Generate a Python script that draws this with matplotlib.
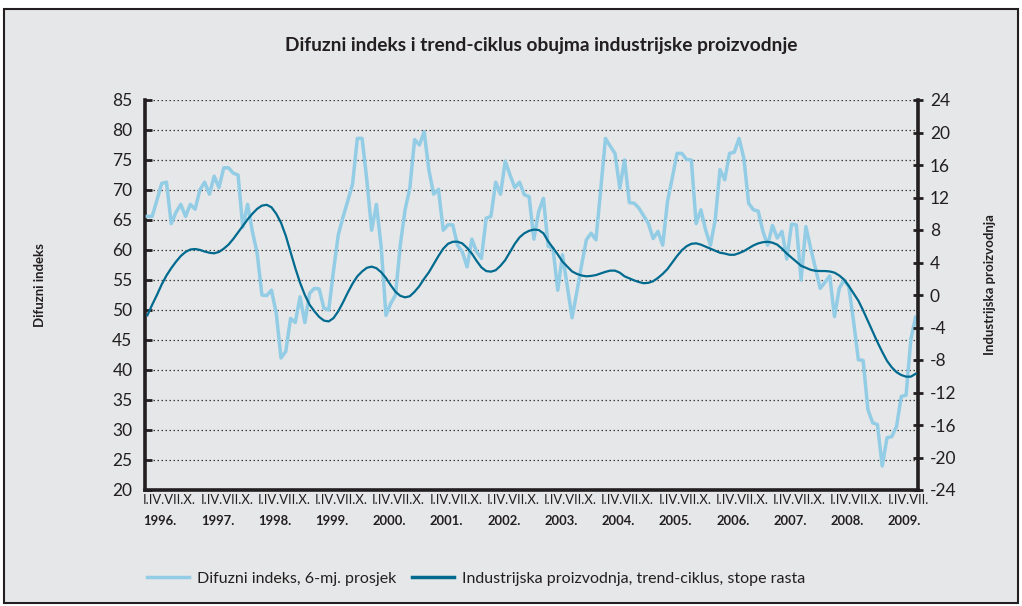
import matplotlib
matplotlib.use('Agg')
import matplotlib.pyplot as plt
import matplotlib.transforms as mtransforms
from matplotlib.patches import Rectangle
from matplotlib.lines import Line2D
import numpy as np

plt.rcParams['font.family'] = ['Lato', 'DejaVu Sans']

# ---------------- data ----------------
title = 'Difuzni indeks i trend-ciklus obujma industrijske proizvodnje'
left_label = 'Difuzni indeks'
right_label = 'Industrijska proizvodnja'
series_names = ['Difuzni indeks, 6-mj. prosjek',
                'Industrijska proizvodnja, trend-ciklus, stope rasta']
years = ['1996.', '1997.', '1998.', '1999.', '2000.', '2001.', '2002.',
         '2003.', '2004.', '2005.', '2006.', '2007.', '2008.', '2009.']
month_labels = ['I.IV.VII.X.'] * 13 + ['I.IV.VII.']
left_ticks = [20, 25, 30, 35, 40, 45, 50, 55, 60, 65, 70, 75, 80, 85]
right_ticks = [-24, -20, -16, -12, -8, -4, 0, 4, 8, 12, 16, 20, 24]

# monthly, Jan 1996 - Jun 2009
diffusion = [
    65.6, 65.6, 68.3, 71.1, 71.3, 64.4, 66.3, 67.6, 65.6, 67.6, 66.8, 70.0,   # 1996
    71.3, 69.3, 72.3, 70.4, 73.7, 73.7, 72.8, 72.5, 63.8, 67.6, 63.1, 59.5,   # 1997
    52.5, 52.4, 53.3, 49.5, 42.0, 43.1, 48.6, 47.9, 52.2, 47.9, 52.8, 53.6,   # 1998
    53.5, 50.3, 50.0, 56.5, 62.5, 65.5, 68.2, 71.0, 78.6, 78.6, 71.6, 63.3,   # 1999
    67.6, 60.5, 49.1, 51.1, 52.5, 60.8, 66.7, 70.3, 78.4, 77.5, 79.7, 73.3,   # 2000
    69.3, 70.1, 63.3, 64.2, 64.2, 60.8, 59.7, 57.2, 61.8, 59.7, 58.6, 65.3,   # 2001
    65.6, 71.3, 69.3, 74.8, 72.5, 70.4, 71.3, 69.2, 68.9, 61.8, 66.4, 68.6,   # 2002
    60.6, 60.3, 53.3, 59.2, 54.0, 48.7, 53.0, 57.5, 61.7, 62.8, 61.7, 70.0,   # 2003
    78.6, 77.3, 76.1, 70.3, 75.0, 67.9, 67.8, 67.0, 65.7, 64.4, 61.9, 63.1,   # 2004
    60.8, 68.1, 72.0, 76.1, 76.1, 75.1, 75.0, 64.4, 66.7, 63.3, 60.8, 65.0,   # 2005
    73.4, 71.7, 76.1, 76.3, 78.6, 75.3, 67.8, 66.7, 66.5, 63.1, 60.8, 64.1,   # 2006
    62.0, 63.1, 58.5, 64.3, 64.2, 55.0, 63.9, 60.3, 57.0, 53.6, 54.6, 55.7,   # 2007
    48.9, 53.6, 55.0, 53.9, 48.1, 41.7, 41.6, 33.4, 31.2, 30.9, 24.0, 28.7,   # 2008
    28.9, 30.6, 35.6, 35.8, 45.1, 48.8,                                       # 2009
]
trend = [
    -2.5, -1.2, 0.0, 1.3, 2.4, 3.3, 4.1, 4.8, 5.3, 5.6, 5.66, 5.55,           # 1996
    5.35, 5.2, 5.13, 5.3, 5.7, 6.2, 6.9, 7.7, 8.5, 9.3, 10.0, 10.6,           # 1997
    11.0, 11.1, 10.8, 10.0, 8.9, 7.3, 5.3, 3.3, 1.5, 0.0, -1.2, -2.0,         # 1998
    -2.7, -3.15, -3.25, -2.85, -2.0, -0.9, 0.3, 1.4, 2.3, 2.9, 3.35, 3.49,    # 1999
    3.3, 2.8, 2.1, 1.2, 0.4, -0.1, -0.29, -0.15, 0.4, 1.1, 2.0, 2.8,          # 2000
    3.8, 4.8, 5.7, 6.3, 6.55, 6.56, 6.35, 5.8, 5.1, 4.2, 3.4, 2.95,           # 2001
    2.87, 3.05, 3.6, 4.3, 5.3, 6.3, 7.1, 7.6, 7.9, 8.05, 8.0, 7.6,            # 2002
    6.6, 5.8, 5.0, 4.1, 3.5, 2.9, 2.6, 2.4, 2.3, 2.35, 2.45, 2.65,            # 2003
    2.85, 3.0, 3.0, 2.75, 2.3, 2.05, 1.8, 1.6, 1.45, 1.5, 1.7, 2.1,           # 2004
    2.6, 3.2, 4.0, 4.8, 5.5, 6.0, 6.3, 6.36, 6.2, 5.95, 5.7, 5.45,            # 2005
    5.2, 5.1, 4.95, 4.95, 5.15, 5.4, 5.75, 6.1, 6.35, 6.5, 6.55, 6.44,        # 2006
    6.2, 5.7, 5.1, 4.6, 4.1, 3.6, 3.35, 3.1, 2.98, 2.95, 2.95, 2.9,           # 2007
    2.75, 2.4, 1.9, 1.1, 0.2, -0.7, -1.9, -3.2, -4.5, -5.8, -7.0, -8.1,       # 2008
    -8.9, -9.5, -9.85, -10.05, -10.05, -9.7,                                  # 2009
]

# ---------------- style ----------------
BG = '#e6e7e8'
INK = '#231f20'
LIGHT = '#93cce5'
DARK = '#006a8f'
W, H = 1022, 606

fig = plt.figure(figsize=(W / 100, H / 100), dpi=100)
fig.patch.set_facecolor('white')
fig.add_artist(Rectangle((4 / W, 3 / H), 1014 / W, 594 / H, transform=fig.transFigure,
                         facecolor=BG, edgecolor=INK, lw=1.5, zorder=0))

ax = fig.add_axes([145 / W, 1 - 490 / H, 773 / W, 390 / H])
ax.set_facecolor('none')
n = len(diffusion)
x = np.arange(n)
ax.plot(x, diffusion, color=LIGHT, lw=2.5, zorder=3, solid_joinstyle='round')
ax.set_xlim(-0.5, n - 0.5)
ax.set_ylim(20, 85)
ax.set_yticks(left_ticks)
ax.set_xticks([])
ax.grid(axis='y', color='#3a3a3a', ls=(0, (1.2, 2.0)), lw=0.9, zorder=1)
for s in ['top', 'right']:
    ax.spines[s].set_visible(False)
for s in ['left', 'bottom']:
    ax.spines[s].set_linewidth(2.6)
    ax.spines[s].set_color(INK)
ax.tick_params(axis='y', direction='in', length=5, width=2, color=INK,
               labelsize=12.5, labelcolor=INK, pad=9)

ax2 = ax.twinx()
ax2.plot(x, trend, color=DARK, lw=1.6, zorder=4)
ax2.set_ylim(-24, 24)
ax2.set_yticks(right_ticks)
ax2.set_yticklabels([str(t) for t in right_ticks])
for s in ['top', 'left', 'bottom']:
    ax2.spines[s].set_visible(False)
ax2.spines['right'].set_linewidth(2.6)
ax2.spines['right'].set_color(INK)
ax2.tick_params(axis='y', direction='inout', length=7, width=2, color=INK,
                labelsize=12.5, labelcolor=INK, pad=5)

# category labels under the axis
trans = mtransforms.blended_transform_factory(ax.transData, ax.transAxes)
for j, (yr, ml) in enumerate(zip(years, month_labels)):
    ax.text(12 * j - 0.9, -0.026, ml, transform=trans, ha='left', va='center',
            fontsize=9.4, color=INK)
    ax.text(12 * j + 2.7, -0.08, yr, transform=trans, ha='center', va='center',
            fontsize=9.4, weight='bold', color=INK)

# titles
t = fig.text(541 / W, 1 - 45 / H, title, ha='center', va='center',
             fontsize=14, weight='bold', color=INK)
fig.text(40 / W, 1 - 285 / H, left_label, rotation=90, ha='center', va='center',
         fontsize=9.5, weight='bold', color=INK)
fig.text(990 / W, 1 - 285 / H, right_label, rotation=90, ha='center', va='center',
         fontsize=9.5, weight='bold', color=INK)

handles = [Line2D([], [], color=LIGHT, lw=2.5), Line2D([], [], color=DARK, lw=2.5)]
fig.legend(handles, series_names, loc='center left',
           bbox_to_anchor=(133 / W, 1 - 579 / H), ncol=2, frameon=False,
           fontsize=11.5, handlelength=2.6, handletextpad=0.5, columnspacing=1.0,
           labelcolor=INK)

# fit title width to the reference (~517 px)
fig.canvas.draw()
r = fig.canvas.get_renderer()
wpx = t.get_window_extent(r).width
t.set_fontsize(14 * 517 / wpx)

fig.savefig('out.png', dpi=100, facecolor=fig.get_facecolor())
